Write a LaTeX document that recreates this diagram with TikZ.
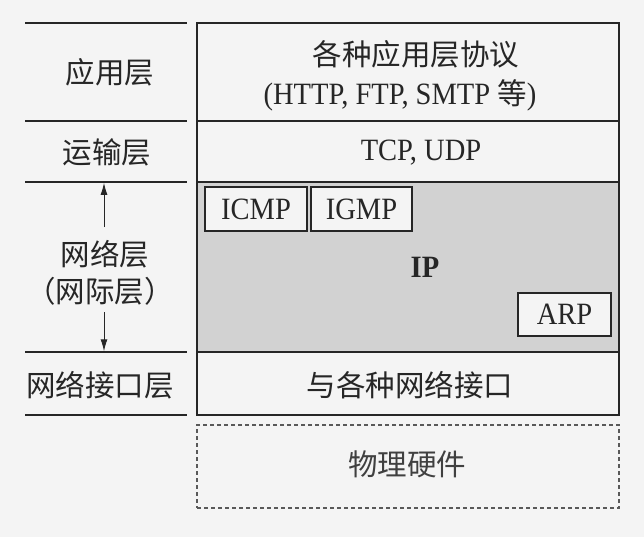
\documentclass[tikz,border=0pt]{standalone}
\usepackage{fontspec}
\setmainfont{Liberation Serif}
\newfontfamily\lat[FakeStretch=0.92]{Liberation Serif}
\newfontfamily\cjk{Noto Sans CJK SC}
\usetikzlibrary{arrows.meta}
\definecolor{bg}{HTML}{F4F4F4}
\definecolor{ipgray}{HTML}{D2D2D2}
\definecolor{ink}{HTML}{262626}
\begin{document}
\begin{tikzpicture}[x=1pt,y=-1pt,
  cn/.style={font=\cjk\fontsize{29.5}{34}\selectfont, inner sep=0pt, text=ink},
  lt/.style={font=\lat\fontsize{31}{34}\selectfont, inner sep=0pt, text=ink},
  row/.style={draw=ink, line width=1.4pt, minimum width=422pt, inner sep=0pt, align=center, text=ink},
  sepline/.style={draw=ink, line width=1.4pt},
  protobox/.style={draw=ink, line width=1.3pt, fill=bg, inner sep=0pt, minimum height=44pt, font=\lat\fontsize{31}{34}\selectfont, text=ink},
  dimarrow/.style={draw=ink, line width=1pt, -{Latex[length=12pt,width=7pt]}},
]
\useasboundingbox[fill=bg] (0,0) rectangle (644,537);

% right column rows
\node[row, minimum height=98pt] (app) at (408,72) {};
\node[row, minimum height=61pt] (trans) at (408,151.5) {};
\node[row, minimum height=170pt, fill=ipgray] (net) at (408,267) {};
\node[row, minimum height=63pt] (link) at (408,383.5) {};
\node[draw=black!65, line width=1.2pt, dash pattern=on 4pt off 3pt, minimum width=422pt, minimum height=83pt, inner sep=0pt] (phys) at (408,466.5) {};

% texts in the rows
\node[cn] (apptxt1) at (416,54) {各种应用层协议};
\node[lt] (apptxt2) at (400,95) {(HTTP, FTP, SMTP {\cjk\fontsize{29.5}{34}\selectfont 等})};
\node[lt] (transtxt) at (421,153) {TCP, UDP};
\node[lt, font=\lat\bfseries\fontsize{31}{34}\selectfont] (ip) at (425,267) {IP};
\node[protobox, minimum width=102pt] (icmp) at (256,209) {ICMP};
\node[protobox, minimum width=101pt] (igmp) at (361.5,209) {IGMP};
\node[protobox, minimum width=93pt, minimum height=43pt] (arp) at (564.5,314.5) {ARP};
\node[cn] (linktxt) at (410,385) {与各种网络接口};
\node[cn, text=black!75] (phystxt) at (407,464) {物理硬件};

% left column separators
\coordinate (l0a) at (25,23);  \coordinate (l0b) at (187,23);
\coordinate (l1a) at (25,121); \coordinate (l1b) at (187,121);
\coordinate (l2a) at (25,182); \coordinate (l2b) at (187,182);
\coordinate (l3a) at (25,352); \coordinate (l3b) at (187,352);
\coordinate (l4a) at (25,415); \coordinate (l4b) at (187,415);
\draw[sepline] (l0a) -- (l0b);
\draw[sepline] (l1a) -- (l1b);
\draw[sepline] (l2a) -- (l2b);
\draw[sepline] (l3a) -- (l3b);
\draw[sepline] (l4a) -- (l4b);

% left column labels
\node[cn] (lapp) at (110,72) {应用层};
\node[cn] (ltrans) at (107,152) {运输层};
\node[cn] (lnet1) at (105,254) {网络层};
\node[cn] (lnet2) at (100,291) {（网际层）};
\node[cn] (llink) at (100,385) {网络接口层};

% arrows
\coordinate (upstart) at (104,227);
\coordinate (uptip) at (104,182.8);
\coordinate (downstart) at (104,312);
\coordinate (downtip) at (104,351.3);
\draw[dimarrow] (upstart) -- (uptip);
\draw[dimarrow] (downstart) -- (downtip);
\end{tikzpicture}
\end{document}
